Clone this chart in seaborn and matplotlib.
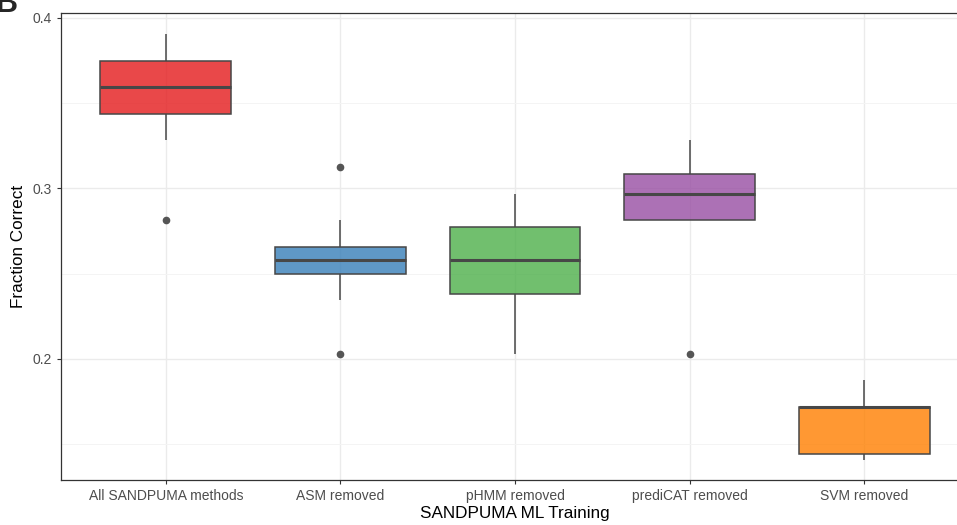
import pandas as pd
import numpy as np
from matplotlib import pyplot as plt
from matplotlib.ticker import MultipleLocator
import seaborn as sns

# correct predictions out of 64 per training run, one list per ML training set
groups = ["All SANDPUMA methods", "ASM removed", "pHMM removed", "prediCAT removed", "SVM removed"]
n_total = 64
all_methods = [18, 21, 22, 22, 23, 23, 24, 24, 25, 25]
asm_removed = [13, 15, 16, 16, 16, 17, 17, 17, 18, 20]
phmm_removed = [13, 14, 15, 16, 16, 17, 17, 18, 18, 19]
predicat_removed = [13, 18, 18, 18, 19, 19, 19, 20, 21, 21]
svm_removed = [9, 9, 9, 10, 11, 11, 11, 11, 12, 12]
colors = ["#E41A1C", "#377EB8", "#4DAF4A", "#984EA3", "#FF7F00"]

rows = []
for g, vals in zip(groups, [all_methods, asm_removed, phmm_removed, predicat_removed, svm_removed]):
    for v in vals:
        rows.append({"training": g, "fraction": v / n_total})
d = pd.DataFrame(rows)

sns.set_style("white")
plt.rcParams["font.family"] = ["Liberation Sans", "DejaVu Sans"]

fig = plt.figure(figsize=(9.57, 5.25), dpi=100)
ax = fig.add_axes([61 / 957, 45 / 525, 908 / 957, 467 / 525])

line_col = "#474747"
sns.boxplot(data=d, x="training", y="fraction", hue="training", order=groups,
            palette=colors, saturation=1, width=0.75, linewidth=1.1, linecolor=line_col,
            showcaps=False, legend=False, ax=ax,
            medianprops={"linewidth": 2.2, "color": line_col},
            flierprops={"marker": "o", "markersize": 4.5, "markerfacecolor": "#555555",
                        "markeredgecolor": "#555555"})

for p in ax.patches:
    fc = p.get_facecolor()
    p.set_facecolor((fc[0], fc[1], fc[2], 0.8))

ax.set_xlim(-0.6, 4.6)
ax.set_ylim(0.129, 0.4029)
ax.yaxis.set_minor_locator(MultipleLocator(0.05))
ax.set_yticks([0.2, 0.3, 0.4])
ax.set_yticklabels(["0.2", "0.3", "0.4"])

ax.grid(True, which="major", color="#EBEBEB", linewidth=1.0)
ax.grid(True, which="minor", axis="y", color="#F4F4F4", linewidth=0.7)
ax.set_axisbelow(True)

for s in ax.spines.values():
    s.set_color("#333333")
    s.set_linewidth(0.9)

ax.tick_params(axis="both", which="major", length=3, width=0.8, color="#333333",
               labelcolor="#4D4D4D", labelsize=10, pad=3.5, bottom=True, left=True)
ax.tick_params(axis="y", which="minor", length=0)

ax.set_xlabel("SANDPUMA ML Training", fontsize=12.3, color="black", labelpad=2)
ax.set_ylabel("Fraction Correct", fontsize=12.3, color="black", labelpad=5)

fig.text(-0.004, 1 - 12 / 525, "B", fontsize=22, fontweight="bold", ha="left", va="baseline")

plt.savefig("out.png", dpi=100)
